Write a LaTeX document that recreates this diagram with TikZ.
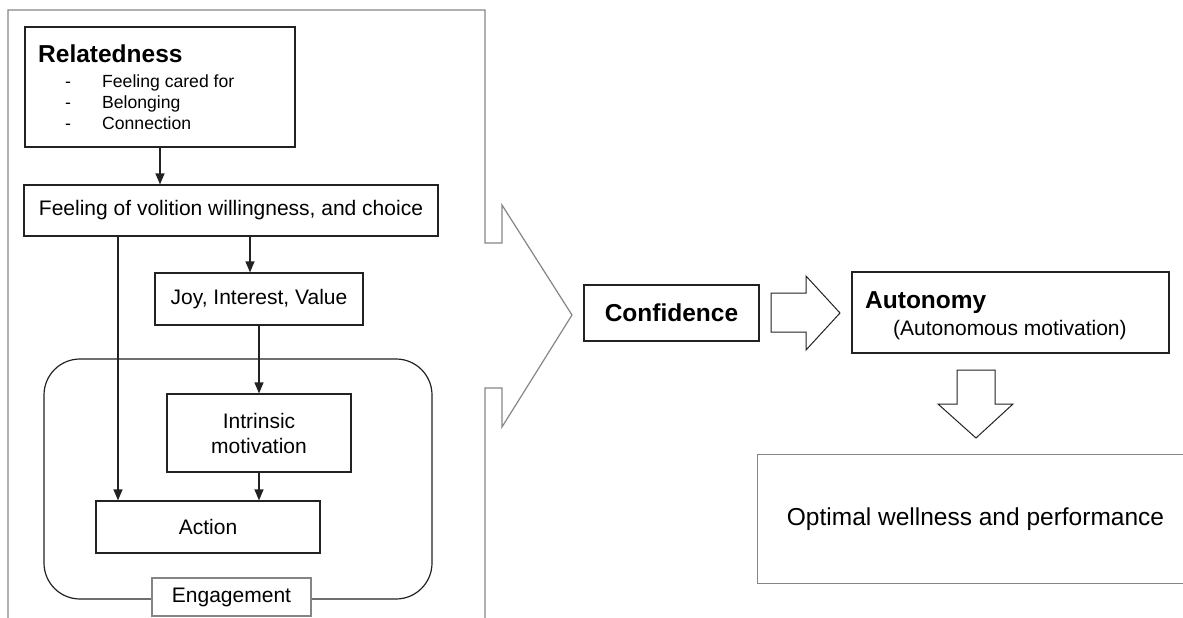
\documentclass[tikz,border=0pt]{standalone}
\usepackage{fontspec}
\setmainfont{Liberation Sans}
\usetikzlibrary{arrows.meta,calc}
\definecolor{ink}{HTML}{222222}
\definecolor{frame}{HTML}{858585}
\tikzset{
  box/.style={draw=ink, line width=1.2pt, inner sep=0pt, align=center, font=\fontsize{21}{25}\selectfont},
  gbox/.style={draw=frame, line width=1.2pt, inner sep=0pt, fill=white, align=center, font=\fontsize{21}{25}\selectfont},
  txt/.style={inner sep=0pt, anchor=base west, font=\fontsize{21}{25}\selectfont},
  btxt/.style={inner sep=0pt, anchor=base west, font=\fontsize{24.5}{28}\selectfont\bfseries},
  bullet/.style={inner sep=0pt, anchor=base west, font=\fontsize{17.6}{20}\selectfont},
  arr/.style={draw=ink, line width=1.2pt, -{Triangle[length=11pt,width=9pt]}},
  blk/.style={draw=ink, line width=1pt, line join=miter},
  outline/.style={draw=frame, line width=1.2pt, line join=miter},
}
\begin{document}
\begin{tikzpicture}[x=1pt,y=-1pt]
\useasboundingbox (0,0) rectangle (1183,618);
\clip (0,0) rectangle (1183,618);

% big outline with arrow
\draw[outline] (8,625) -- (8,10) -- (485,10) -- (485,243) -- (502,243) -- (502,205)
  -- (572,315) -- (502,427) -- (502,388) -- (485,388) -- (485,625);

% Relatedness
\node[box, minimum width=270pt, minimum height=120pt] (rel) at (160,87) {};
\node[btxt] (relt) at (38,63) {Relatedness};
\node[bullet] (b1) at (65,87) {\makebox[37pt][l]{-}Feeling cared for};
\node[bullet] (b2) at (65,108) {\makebox[37pt][l]{-}Belonging};
\node[bullet] (b3) at (65,129) {\makebox[37pt][l]{-}Connection};

% Volition
\node[box, minimum width=414pt, minimum height=51pt] (vol) at (231,210.5) {Feeling of volition willingness, and choice};

% Joy
\node[box, minimum width=208pt, minimum height=52pt] (joy) at (259,299) {Joy, Interest, Value};

% Engagement frame
\node[draw=ink, line width=1.2pt, rounded corners=36pt, minimum width=388pt, minimum height=240pt, inner sep=0pt] (eng) at (238,479) {};

% Intrinsic motivation
\node[box, minimum width=184pt, minimum height=78pt] (intr) at (259,433) {Intrinsic\\motivation};

% Action
\node[box, minimum width=224pt, minimum height=52pt] (act) at (208,527) {Action};

% Engagement label
\node[gbox, minimum width=159pt, minimum height=38pt] (englab) at (231.5,597) {Engagement};

% connectors
\coordinate (lx) at (118,0);
\coordinate (rx) at (250,0);
\draw[arr] (rel.south) -- (rel.south |- vol.north);
\draw[arr] (vol.south -| lx) -- (act.north -| lx);
\draw[arr] (vol.south -| rx) -- (joy.north -| rx);
\draw[arr] (joy.south) -- (intr.north);
\draw[arr] (intr.south) -- (intr.south |- act.north);

% Confidence
\node[box, minimum width=175pt, minimum height=56pt, font=\fontsize{24.5}{28}\selectfont\bfseries] (conf) at (671.5,313) {Confidence};

% right block arrow
\draw[blk] (771,293) -- (806,293) -- (806,276) -- (840,313) -- (806,350) -- (806,332) -- (771,332) -- cycle;

% Autonomy
\node[box, minimum width=317pt, minimum height=81pt] (auto) at (1010.5,312.5) {};
\node[btxt] (autot) at (865,308) {Autonomy};
\node[txt] (autos) at (893,335) {(Autonomous motivation)};

% down block arrow
\draw[blk] (957,370) -- (995,370) -- (995,404) -- (1013,404) -- (976,438) -- (938,404) -- (957,404) -- cycle;

% Optimal wellness
\node[inner sep=0pt, minimum width=435pt, minimum height=128pt, font=\fontsize{24.5}{28}\selectfont] (opt) at (975.5,519) {Optimal wellness and performance};
\draw[outline] (opt.north east) -- (opt.north west) -- (opt.south west) -- (opt.south east);
\end{tikzpicture}
\end{document}
